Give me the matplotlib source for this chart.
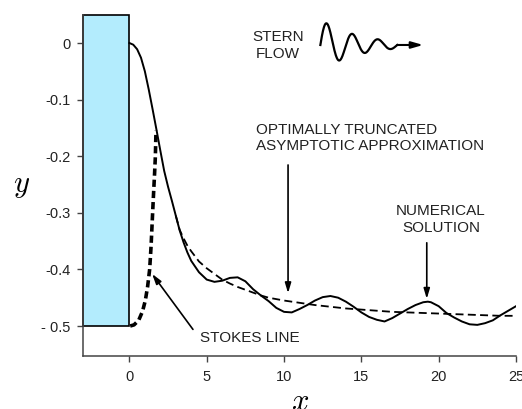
import numpy as np
import matplotlib
matplotlib.use("Agg")
import matplotlib.pyplot as plt
from matplotlib.patches import Rectangle

plt.rcParams['font.family'] = ['Liberation Sans', 'DejaVu Sans']
plt.rcParams['mathtext.fontset'] = 'cm'

# numerical solution (solid)
num_x = [0.0, 0.25, 0.5, 0.75, 1.0, 1.25, 1.5, 1.75, 2.0, 2.25, 2.5, 2.75, 3.0,
         3.25, 3.5, 3.75, 4.0, 4.5, 5.0, 5.5, 6.0, 6.5, 7.0, 7.5, 8.0, 8.5, 9.0,
         9.5, 10.0, 10.5, 11.0, 11.5, 12.0, 12.5, 13.0, 13.5, 14.0, 14.5, 15.0,
         15.5, 16.0, 16.5, 17.0, 17.5, 18.0, 18.5, 19.0, 19.3, 19.5, 20.0, 20.5,
         21.0, 21.5, 22.0, 22.5, 23.0, 23.5, 24.0, 24.5, 25.0]
num_y = [0.0, -0.003, -0.011, -0.026, -0.050, -0.082, -0.117, -0.153, -0.190,
         -0.226, -0.254, -0.279, -0.305, -0.331, -0.352, -0.370, -0.385, -0.405,
         -0.418, -0.422, -0.420, -0.415, -0.414, -0.421, -0.435, -0.446, -0.456,
         -0.468, -0.475, -0.476, -0.470, -0.463, -0.455, -0.449, -0.447, -0.450,
         -0.457, -0.466, -0.476, -0.484, -0.489, -0.492, -0.486, -0.478, -0.470,
         -0.463, -0.458, -0.457, -0.458, -0.465, -0.477, -0.485, -0.492, -0.497,
         -0.498, -0.495, -0.490, -0.481, -0.473, -0.465]

# optimally truncated asymptotic approximation (dashed)
asy_x = [3.0, 3.25, 3.5, 3.75, 4.0, 4.5, 5.0, 5.5, 6.0, 6.5, 7.0, 7.5, 8.0, 8.5,
         9.0, 10.0, 11.0, 12.0, 13.0, 14.0, 15.0, 16.0, 17.0, 18.0, 19.0, 20.0,
         21.0, 22.0, 23.0, 24.0, 25.0]
asy_y = [-0.305, -0.330, -0.345, -0.358, -0.368, -0.386, -0.398, -0.408, -0.418,
         -0.425, -0.431, -0.436, -0.441, -0.446, -0.450, -0.455, -0.459, -0.463,
         -0.466, -0.469, -0.471, -0.473, -0.475, -0.476, -0.477, -0.478, -0.479,
         -0.480, -0.481, -0.482, -0.482]

# Stokes line (thick dashed)
stokes_x = [0.05, 0.3, 0.6, 0.85, 1.03, 1.18, 1.31, 1.40, 1.46, 1.52, 1.57, 1.63, 1.68, 1.72]
stokes_y = [-0.5, -0.498, -0.49, -0.474, -0.455, -0.43, -0.40, -0.36, -0.325,
            -0.29, -0.262, -0.23, -0.20, -0.155]

xticks = [0, 5, 10, 15, 20, 25]
yticks = [0, -0.1, -0.2, -0.3, -0.4, -0.5]
ytick_labels = ['0', '-0.1', '-0.2', '-0.3', '-0.4', '- 0.5']

fig = plt.figure(figsize=(5.22, 4.09), dpi=100)
ax = fig.add_axes([83 / 522, 1 - 356 / 409, 433 / 522, 341.3 / 409])

# ship stern block
ax.add_patch(Rectangle((-3, -0.5), 3, 0.55, facecolor='#b3ecfd',
                       edgecolor='black', lw=1.2, clip_on=False, zorder=2))

ax.plot(num_x, num_y, color='black', lw=1.4, zorder=3)
ax.plot(asy_x, asy_y, color='black', lw=1.3, linestyle=(0, (4.4, 2.4)), zorder=3)
ax.plot(stokes_x, stokes_y, color='black', lw=2.6, linestyle=(0, (2.0, 1.1)), zorder=3)

ax.set_xlim(-3, 25)
ax.set_ylim(-0.553, 0.05)
ax.set_xticks(xticks)
ax.set_yticks(yticks)
ax.set_yticklabels(ytick_labels)
for s in ['top', 'right']:
    ax.spines[s].set_visible(False)
for s in ['left', 'bottom']:
    ax.spines[s].set_color('#444444')
    ax.spines[s].set_linewidth(1.1)
ax.tick_params(direction='out', length=4, width=1, colors='#444444',
               labelcolor='#222222', labelsize=10.5)
ax.tick_params(axis='x', pad=6)
ax.tick_params(axis='y', pad=5)

ax.text(-0.143, 0.5, '$y$', transform=ax.transAxes, fontsize=22,
        ha='center', va='center')
ax.text(0.501, -0.135, '$x$', transform=ax.transAxes, fontsize=22,
        ha='center', va='center')

tc = '#222222'
ax.text(9.6, -0.0044, 'STERN\nFLOW', fontsize=11, ha='center', va='center',
        color=tc, linespacing=1.25)
ax.text(8.2, -0.168, 'OPTIMALLY TRUNCATED\nASYMPTOTIC APPROXIMATION',
        fontsize=11, ha='left', va='center', color=tc, linespacing=1.25)
ax.text(20.15, -0.312, 'NUMERICAL\nSOLUTION', fontsize=11, ha='center',
        va='center', color=tc, linespacing=1.25)
ax.text(4.55, -0.521, 'STOKES LINE', fontsize=11, ha='left', va='center', color=tc)

arrow = dict(arrowstyle='-|>,head_length=0.6,head_width=0.18', color='black',
             lw=1.2, shrinkA=0, shrinkB=0)
ax.annotate('', xy=(10.26, -0.442), xytext=(10.26, -0.2155), arrowprops=arrow)
ax.annotate('', xy=(19.23, -0.452), xytext=(19.23, -0.353), arrowprops=arrow)
ax.annotate('', xy=(1.47, -0.408), xytext=(4.11, -0.506), arrowprops=arrow)

# wavy stern-flow icon
t = np.linspace(0, 1, 300)
wx = 12.35 + 4.97 * t
wy = -0.0035 + 0.045 * np.exp(-2.0 * t) * np.sin(2 * np.pi * 3 * t)
ax.plot(wx, wy, color='black', lw=1.6, clip_on=False)
ax.annotate('', xy=(19.0, -0.0035), xytext=(wx[-1], wy[-1]),
            arrowprops=dict(arrowstyle='-|>,head_length=0.7,head_width=0.2',
                            color='black', lw=1.5, shrinkA=0, shrinkB=0))

fig.savefig('out.png', dpi=100)
